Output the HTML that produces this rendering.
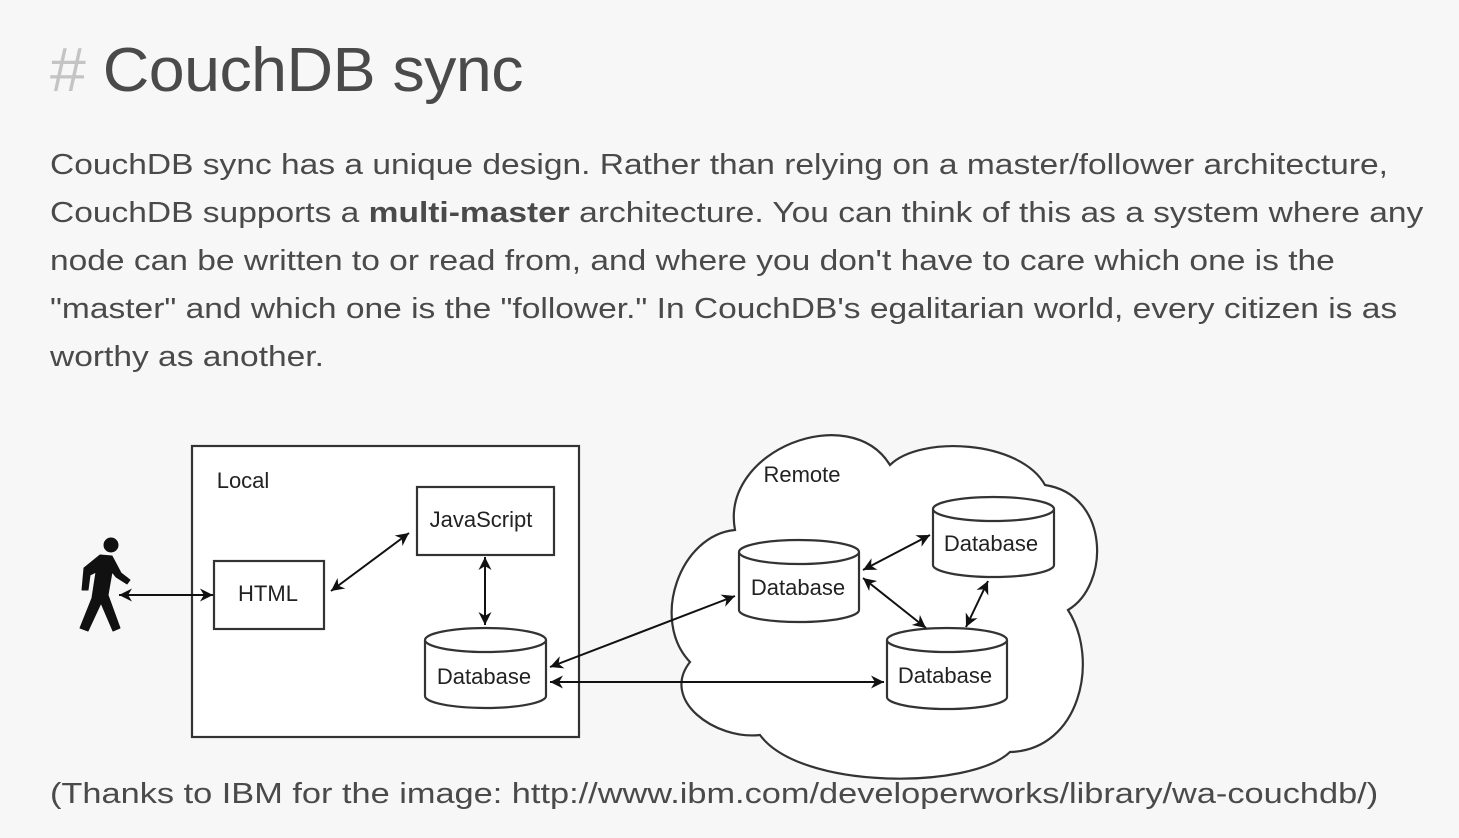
<!DOCTYPE html>
<html><head><meta charset="utf-8"><style>
html,body{margin:0;padding:0;background:#f7f7f7;}
body{width:1459px;height:838px;overflow:hidden;position:relative;font-family:"Liberation Sans",sans-serif;color:#444;}
h1{position:absolute;left:50px;top:35px;margin:0;font-size:62px;font-weight:normal;color:#4a4a4a;white-space:nowrap;letter-spacing:-0.5px;transform:scaleX(1.04);transform-origin:0 0;}
h1 span{color:#c4c4c4;}
.p{position:absolute;left:50px;top:141px;font-size:29px;line-height:48px;white-space:nowrap;color:#4a4a4a;transform:scaleX(1.156);transform-origin:0 0;}
.cap{position:absolute;left:50px;top:778px;font-size:29px;white-space:nowrap;color:#4a4a4a;transform:scaleX(1.184);transform-origin:0 0;}
svg{position:absolute;left:0;top:0;}
</style></head><body>
<h1><span>#</span> CouchDB sync</h1>
<div class="p">CouchDB sync has a unique design. Rather than relying on a master/follower architecture,<br>CouchDB supports a <b>multi-master</b> architecture. You can think of this as a system where any<br>node can be written to or read from, and where you don't have to care which one is the<br>"master" and which one is the "follower." In CouchDB's egalitarian world, every citizen is as<br>worthy as another.</div>
<svg width="1459" height="838" viewBox="0 0 1459 838">
<defs>
<marker id="a" viewBox="0 0 10 10" refX="10" refY="5" markerWidth="15" markerHeight="13" orient="auto-start-reverse" markerUnits="userSpaceOnUse"><path d="M0,0 L10,5 L0,10 L3,5 Z" fill="#111"/></marker>
</defs>
<g stroke="#333" stroke-width="2.2" fill="#fff">
<rect x="192" y="446" width="387" height="291"/>
<rect x="417" y="487" width="137" height="68"/>
<rect x="214" y="561" width="110" height="68"/>
<path d="M735,530 C720,450 850,400 890,465 C920,435 1020,440 1045,485 C1110,495 1110,585 1068,610 C1100,660 1080,750 1010,752 C970,790 800,790 760,735 C715,740 660,700 690,662 C650,620 680,535 735,530 Z"/>
</g>
<g stroke="#333" stroke-width="2.2" fill="#fff">
<path d="M425,640 v56 a60.5,12 0 0 0 121,0 v-56"/><ellipse cx="485.5" cy="640" rx="60.5" ry="12"/>
<path d="M739,552 v58 a60,12 0 0 0 120,0 v-58"/><ellipse cx="799" cy="552" rx="60" ry="12"/>
<path d="M933,509 v56 a60.5,12 0 0 0 121,0 v-56"/><ellipse cx="993.5" cy="509" rx="60.5" ry="12"/>
<path d="M887,640 v57 a60,12 0 0 0 120,0 v-57"/><ellipse cx="947" cy="640" rx="60" ry="12"/>
</g>
<g stroke="#111" stroke-width="2" fill="none" marker-start="url(#a)" marker-end="url(#a)">
<line x1="119" y1="595" x2="213" y2="595"/>
<line x1="331" y1="591" x2="409" y2="533"/>
<line x1="485" y1="557" x2="485" y2="625"/>
<line x1="550" y1="667" x2="735" y2="596"/>
<line x1="550" y1="682" x2="884" y2="682"/>
<line x1="863" y1="570" x2="930" y2="535"/>
<line x1="863" y1="578" x2="926" y2="628"/>
<line x1="988" y1="581" x2="966" y2="627"/>
</g>
<g fill="#111" stroke="#111">
<circle cx="111" cy="545" r="7"/>
<path d="M100,555 L112,556 L121,573 L130,580 L127,584 L116,577 L112,572 L108,595 L120,628 L113,631 L101,603 L88,631 L80,628 L92,598 L96,572 L90,575 L88,590 L82,590 L84,568 Z" stroke-width="1" stroke-linejoin="round"/>
</g>
<g font-family="Liberation Sans, sans-serif" font-size="22" fill="#222" text-anchor="middle">
<text x="243" y="488">Local</text>
<text x="481" y="527">JavaScript</text>
<text x="268" y="601">HTML</text>
<text x="484" y="684">Database</text>
<text x="802" y="482">Remote</text>
<text x="798" y="595">Database</text>
<text x="991" y="551">Database</text>
<text x="945" y="683">Database</text>
</g>
</svg>
<div class="cap">(Thanks to IBM for the image: http://www.ibm.com/developerworks/library/wa-couchdb/)</div>
</body></html>
